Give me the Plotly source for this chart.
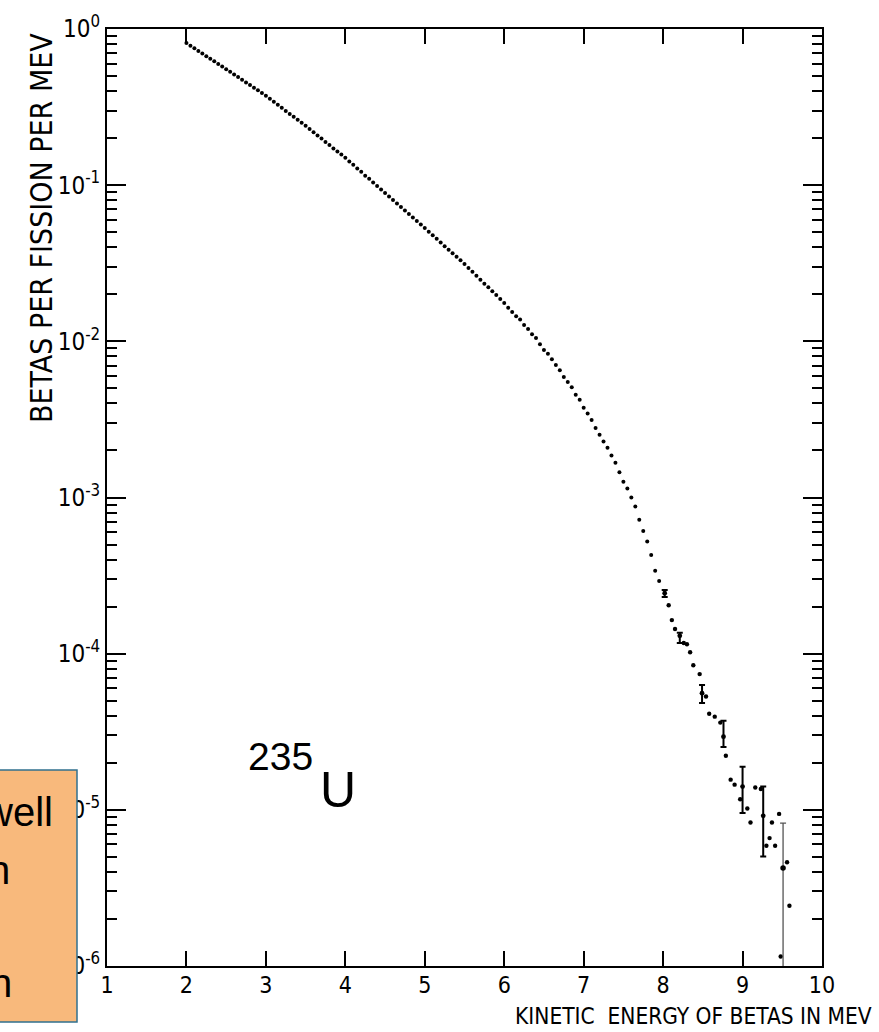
import plotly.graph_objects as go

# ---- beta spectrum of 235U fission products, 50 keV bins from 2.00 MeV ----
bin_start = 2.00
bin_width = 0.05
spectrum = [
    0.813, 0.782, 0.753, 0.724, 0.697, 0.670, 0.646, 0.621, 0.597, 0.575, 0.553,
    0.532, 0.512, 0.492, 0.473, 0.455, 0.438, 0.421, 0.405, 0.389, 0.374,
    0.358, 0.342, 0.327, 0.313, 0.299, 0.286, 0.274, 0.262, 0.251, 0.240,
    0.229, 0.218, 0.208, 0.199, 0.189, 0.181, 0.172, 0.164, 0.157, 0.150,
    0.142, 0.135, 0.128, 0.122, 0.115, 0.110, 0.104, 0.0989, 0.0938, 0.0891,
    0.0846, 0.0804, 0.0763, 0.0724, 0.0688, 0.0653, 0.0620, 0.0589, 0.0559, 0.0531,
    0.0504, 0.0478, 0.0453, 0.0430, 0.0407, 0.0386, 0.0366, 0.0348, 0.0330, 0.0313,
    0.0295, 0.0279, 0.0263, 0.0248, 0.0234, 0.0222, 0.0209, 0.0198, 0.0187, 0.0176,
    0.0164, 0.0154, 0.0145, 0.0138, 0.0127, 0.0120, 0.0111, 0.0105, 0.00959, 0.00881,
    0.00832, 0.00767, 0.00705, 0.00653, 0.00592, 0.00550, 0.00509, 0.00455, 0.00422, 0.00376,
    0.00345, 0.00313, 0.00279, 0.00252, 0.00228, 0.00208, 0.00186, 0.00167, 0.00145, 0.00126,
    0.00114, 0.00100, 0.000875, 0.000719, 0.000610, 0.000522, 0.000428, 0.000340, 0.000292,
]
energy = [round(bin_start + bin_width * i, 2) for i in range(len(spectrum))]

# ---- high-energy tail (scattered points) ----
tail_energy = [8.07, 8.11, 8.15, 8.26, 8.30, 8.34, 8.38, 8.46, 8.54, 8.58, 8.65,
               8.72, 8.79, 8.85, 8.90, 8.97, 9.06, 9.10, 9.16, 9.23, 9.30, 9.34,
               9.37, 9.41, 9.46, 9.48, 9.56, 9.59]
tail_value = [2.04e-4, 1.64e-4, 1.44e-4, 1.17e-4, 1.15e-4, 1.02e-4, 8.43e-5, 7.40e-5,
              5.32e-5, 4.12e-5, 3.95e-5, 3.62e-5, 2.22e-5, 1.56e-5, 1.45e-5, 1.17e-5,
              1.02e-5, 8.30e-6, 1.39e-5, 1.36e-5, 5.89e-6, 6.59e-6, 8.30e-6, 5.89e-6,
              9.42e-6, 1.15e-6, 4.62e-6, 2.43e-6]

# ---- points drawn with error bars (value, upper and lower bound) ----
err_energy = [8.02, 8.21, 8.49, 8.76, 9.00, 9.26]
err_value = [2.44e-4, 1.30e-4, 5.58e-5, 2.94e-5, 1.41e-5, 9.16e-6]
err_high = [2.56e-4, 1.36e-4, 6.31e-5, 3.72e-5, 1.89e-5, 1.41e-5]
err_low = [2.31e-4, 1.17e-4, 4.84e-5, 2.53e-5, 9.53e-6, 5.02e-6]

last_energy = [9.51]
last_value = [4.24e-6]
last_high = [8.22e-6]
last_low = [5.0e-7]

x_ticks = [1, 2, 3, 4, 5, 6, 7, 8, 9, 10]
y_ticks = [1e-6, 1e-5, 1e-4, 1e-3, 1e-2, 1e-1, 1]
y_ticktext = ["10<sup>-6</sup>", "10<sup>-5</sup>", "10<sup>-4</sup>", "10<sup>-3</sup>",
              "10<sup>-2</sup>", "10<sup>-1</sup>", "10<sup>0</sup>"]
y_minor = [k * 10.0 ** n for n in range(-6, 0) for k in range(2, 10)]

NARROW = "DejaVu Sans Condensed, Liberation Sans Narrow, Arial Narrow, sans-serif"
SANS = "Liberation Sans, Arial, Helvetica, sans-serif"

W, H = 879, 1032
L, R, T, B = 107, 57, 29, 66
PW, PH = W - L - R, H - T - B


def px(xp):
    return (xp - L) / PW


def py(yp):
    return (H - B - yp) / PH


fig = go.Figure()

fig.add_trace(go.Scatter(
    x=energy, y=spectrum, mode="markers",
    marker=dict(color="black", size=4.0, line=dict(width=0)),
    showlegend=False, hoverinfo="x+y",
))
fig.add_trace(go.Scatter(
    x=tail_energy, y=tail_value, mode="markers",
    marker=dict(color="black", size=4.4, line=dict(width=0)),
    showlegend=False,
))
fig.add_trace(go.Scatter(
    x=err_energy, y=err_value, mode="markers",
    marker=dict(color="black", size=4.8, line=dict(width=0)),
    error_y=dict(type="data", symmetric=False,
                 array=[h - v for h, v in zip(err_high, err_value)],
                 arrayminus=[v - l for v, l in zip(err_value, err_low)],
                 color="black", thickness=2, width=3),
    showlegend=False,
))
fig.add_trace(go.Scatter(
    x=last_energy, y=last_value, mode="markers",
    marker=dict(color="black", size=5.5, line=dict(width=0)),
    error_y=dict(type="data", symmetric=False,
                 array=[h - v for h, v in zip(last_high, last_value)],
                 arrayminus=[v - l for v, l in zip(last_value, last_low)],
                 color="#555555", thickness=1.3, width=3),
    showlegend=False,
))

fig.update_xaxes(
    range=[1, 10], tickmode="array", tickvals=x_ticks,
    ticks="inside", ticklen=15, tickwidth=2, tickcolor="black",
    showline=True, linewidth=2, linecolor="black", mirror="allticks",
    showgrid=False, zeroline=False, ticklabelstandoff=-3,
    tickfont=dict(family=NARROW, size=23, color="black"),
)
fig.update_yaxes(
    type="log", range=[-6, 0], tickmode="array",
    tickvals=y_ticks, ticktext=y_ticktext,
    ticks="inside", ticklen=19, tickwidth=2, tickcolor="black",
    minor=dict(ticks="inside", ticklen=10, tickwidth=1.6, tickcolor="black",
               tickmode="array", tickvals=y_minor, showgrid=False),
    showline=True, linewidth=2, linecolor="black", mirror="allticks",
    showgrid=False, zeroline=False,
    tickfont=dict(family=NARROW, size=24, color="black"),
)

annotations = [
    # axis titles
    dict(text="KINETIC  ENERGY OF BETAS IN MEV", xref="paper", yref="paper",
         x=px(874), y=py(1016), xanchor="right", yanchor="middle", showarrow=False,
         font=dict(family=NARROW, size=22.5, color="black")),
    dict(text="BETAS PER FISSION PER MEV", xref="paper", yref="paper",
         x=px(41), y=py(228), xanchor="center", yanchor="middle", showarrow=False,
         textangle=-90, font=dict(family=NARROW, size=30, color="black")),
    # isotope label: mass number raised before the element symbol
    dict(text="235", xref="paper", yref="paper", x=px(246), y=py(757),
         xanchor="left", yanchor="middle", showarrow=False,
         font=dict(family=SANS, size=39, color="black")),
    dict(text="U", xref="paper", yref="paper", x=px(318), y=py(790),
         xanchor="left", yanchor="middle", showarrow=False,
         font=dict(family=SANS, size=50, color="black")),
    # note box text
    dict(text="well", xref="paper", yref="paper", x=px(55), y=py(812),
         xanchor="right", yanchor="middle", showarrow=False,
         font=dict(family=SANS, size=40, color="black")),
    dict(text="n", xref="paper", yref="paper", x=px(12), y=py(870),
         xanchor="right", yanchor="middle", showarrow=False,
         font=dict(family=SANS, size=40, color="black")),
    dict(text="n", xref="paper", yref="paper", x=px(14), y=py(983),
         xanchor="right", yanchor="middle", showarrow=False,
         font=dict(family=SANS, size=40, color="black")),
]

shapes = [
    dict(type="rect", xref="paper", yref="paper", layer="above",
         x0=px(-10), x1=px(77), y0=py(1022), y1=py(770),
         fillcolor="#F8B97C", line=dict(color="#31708F", width=1.5)),
]

fig.update_layout(
    width=W, height=H,
    margin=dict(l=L, r=R, t=T, b=B, pad=0),
    paper_bgcolor="white", plot_bgcolor="white",
    annotations=annotations, shapes=shapes,
    showlegend=False,
)

fig.write_html("out.html")
